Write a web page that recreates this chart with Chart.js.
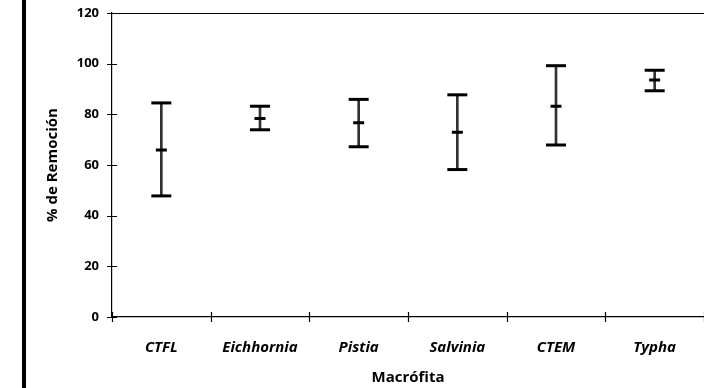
<!DOCTYPE html>
<html>
<head>
<meta charset="utf-8">
<script src="https://cdn.jsdelivr.net/npm/chart.js@4.4.1/dist/chart.umd.min.js"></script>
<style>
  body { margin: 0; background: #fff; }
  #wrap { position: relative; width: 704px; height: 388px; }
  #bar { position: absolute; left: 22px; top: 0; width: 4px; height: 388px; background: #000; }
</style>
</head>
<body>
<div id="wrap">
  <canvas id="myChart" width="704" height="388"></canvas>
  <div id="bar"></div>
</div>
<script>
const ctx = document.getElementById('myChart').getContext('2d');

let macrofitas = ['CTFL', 'Eichhornia', 'Pistia', 'Salvinia', 'CTEM', 'Typha'];
let media = [65.9, 78.4, 76.7, 72.9, 83.2, 93.6];
let superior = [84.5, 83.2, 85.9, 87.7, 99.2, 97.4];
let inferior = [47.8, 73.9, 67.2, 58.2, 67.9, 89.3];
let yTicks = [0, 20, 40, 60, 80, 100, 120];

const fuente = '"Open Sans", sans-serif';

// ticks que cruzan el eje + linea de arriba
const marcas = {
    id: 'marcas',
    afterDraw(chart) {
        const c = chart.ctx;
        const x = chart.scales.x, y = chart.scales.y;
        const a = chart.chartArea;
        c.save();
        c.strokeStyle = '#000';
        c.lineWidth = 1.2;
        c.beginPath();
        yTicks.forEach(v => {
            const py = Math.round(y.getPixelForValue(v)) + 0.5;
            c.moveTo(a.left - 5, py);
            c.lineTo(a.left + 5, py);
        });
        for (let i = 0; i <= macrofitas.length; i++) {
            const px = Math.round(x.getPixelForValue(i - 0.5)) + 0.5;
            c.moveTo(px, a.bottom - 5);
            c.lineTo(px, a.bottom + 5);
        }
        const top = Math.round(a.top) + 0.5;
        c.moveTo(a.left, top);
        c.lineTo(a.right, top);
        c.stroke();
        c.restore();
    }
};

const myChart = new Chart(ctx, {
    data: {
        labels: macrofitas,
        datasets: [
            {
                type: 'bar',
                data: superior.map((s, i) => [inferior[i], s]),
                backgroundColor: '#333',
                barThickness: 2,
                order: 4
            },
            {
                type: 'line',
                data: superior,
                showLine: false,
                pointStyle: 'line',
                pointRadius: 10,
                pointBorderWidth: 3,
                borderColor: '#000',
                order: 1
            },
            {
                type: 'line',
                data: inferior,
                showLine: false,
                pointStyle: 'line',
                pointRadius: 10,
                pointBorderWidth: 3,
                borderColor: '#000',
                order: 2
            },
            {
                type: 'line',
                data: media,
                showLine: false,
                pointStyle: 'line',
                pointRadius: 5.5,
                pointBorderWidth: 3,
                borderColor: '#000',
                order: 3
            }
        ]
    },
    options: {
        responsive: false,
        animation: false,
        layout: { autoPadding: false, padding: { top: 13, right: 0, left: 0, bottom: 0 } },
        plugins: {
            legend: { display: false },
            tooltip: { enabled: false }
        },
        scales: {
            x: {
                offset: true,
                grid: { display: false, offset: true, drawTicks: false },
                border: { display: true, color: '#000', width: 1.2 },
                ticks: {
                    color: '#000',
                    padding: 22,
                    font: { family: fuente, size: 15, weight: 'bold', style: 'italic' }
                },
                title: {
                    display: true,
                    text: 'Macrófita',
                    color: '#000',
                    padding: { top: 0, bottom: 1 },
                    font: { family: fuente, size: 15, weight: 'bold' }
                },
                afterFit(scale) { scale.height = 71; }
            },
            y: {
                min: 0,
                max: 120,
                afterBuildTicks(scale) { scale.ticks = yTicks.map(v => ({ value: v })); },
                grid: { display: false, drawTicks: false },
                border: { display: true, color: '#000', width: 1.2 },
                ticks: {
                    color: '#000',
                    padding: 13,
                    font: { family: fuente, size: 13, weight: 'bold' }
                },
                title: {
                    display: true,
                    text: '% de Remoción',
                    color: '#000',
                    padding: { top: 44, bottom: 0 },
                    font: { family: fuente, size: 15, weight: 'bold' }
                },
                afterFit(scale) {
                    scale.width = 112;
                    scale.paddingTop = 0;
                    scale.paddingBottom = 0;
                }
            }
        }
    },
    plugins: [marcas]
});
</script>
</body>
</html>
